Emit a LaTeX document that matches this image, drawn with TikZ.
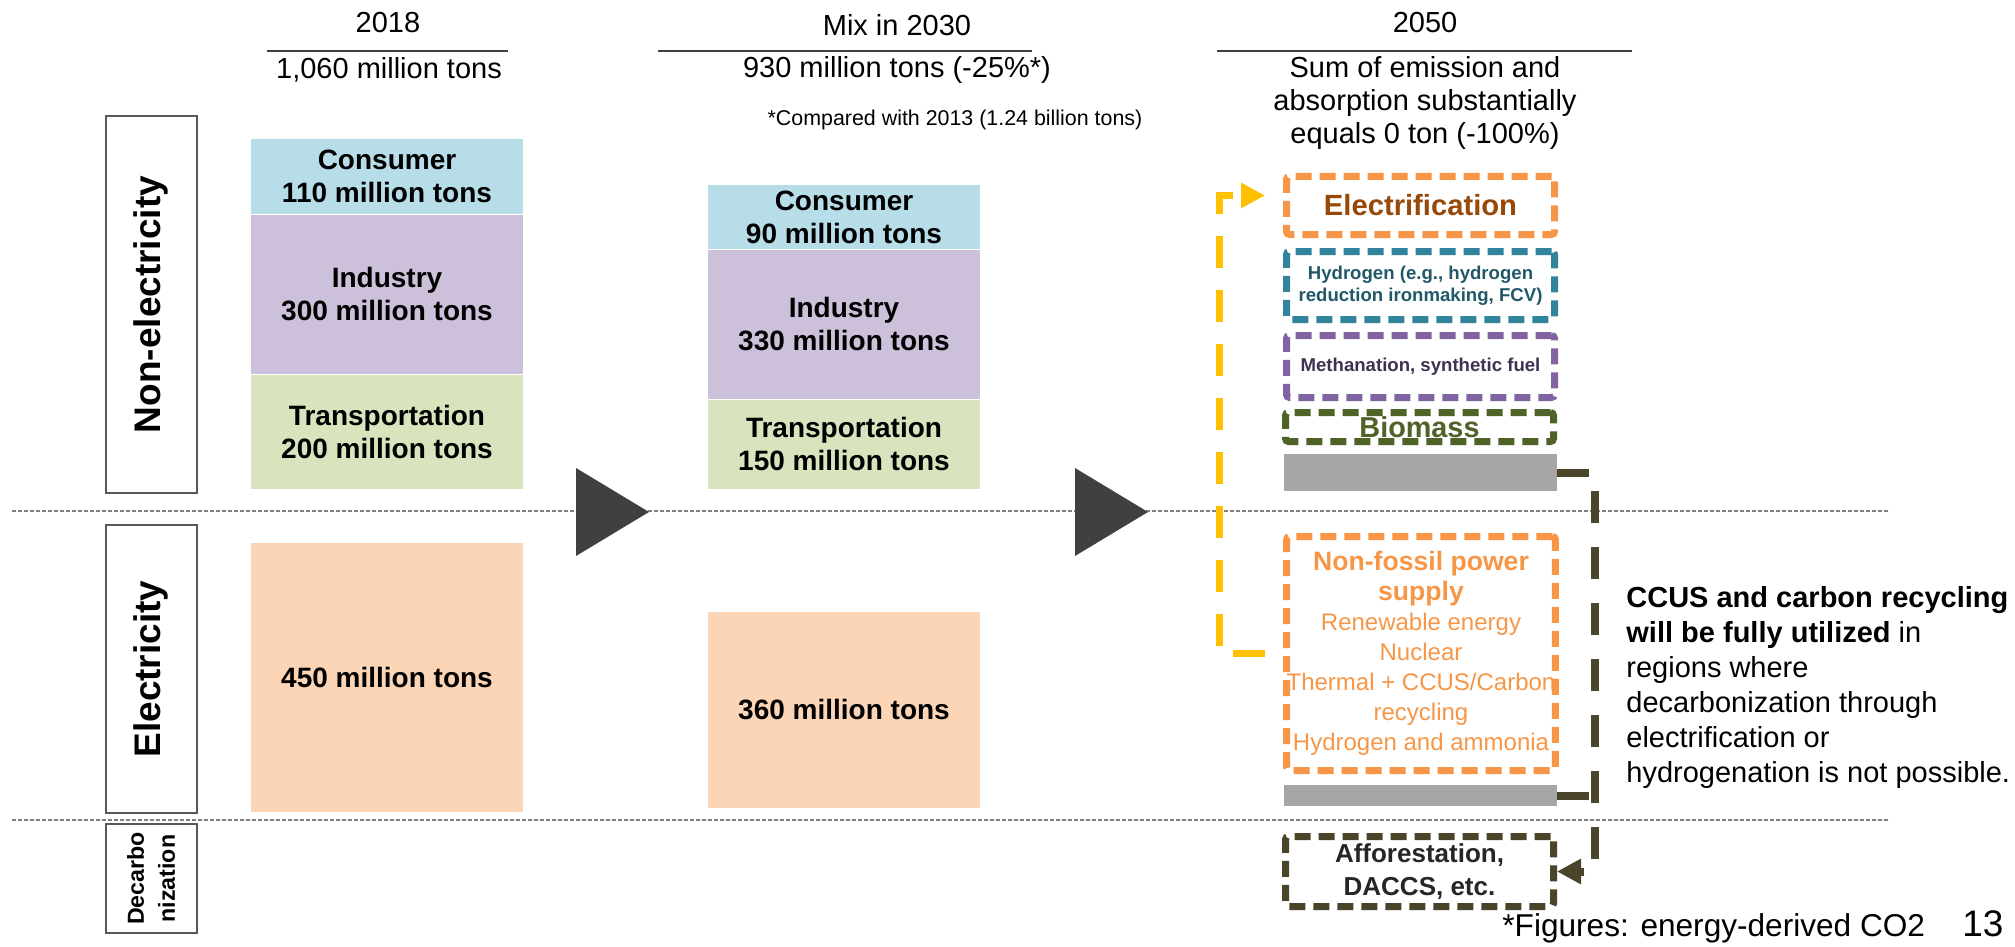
\documentclass[tikz,border=0pt]{standalone}
\usepackage{fontspec}
\setmainfont{Liberation Sans}
\usetikzlibrary{positioning,arrows.meta}
\tikzset{>={Triangle[length=12pt,width=12pt]}}
\definecolor{consumer}{HTML}{B7DDE8}
\definecolor{industry}{HTML}{CCC0DA}
\definecolor{transport}{HTML}{D7E4BD}
\definecolor{power}{HTML}{FBD5B5}
\definecolor{tri}{HTML}{404040}
\definecolor{sepgray}{HTML}{7F7F7F}
\definecolor{sidegray}{HTML}{595959}
\definecolor{bargray}{HTML}{A6A6A6}
\definecolor{elecorange}{HTML}{F79646}
\definecolor{elecbrown}{HTML}{984807}
\definecolor{hydteal}{HTML}{31849B}
\definecolor{hydtext}{HTML}{215968}
\definecolor{methpurple}{HTML}{8064A2}
\definecolor{methtext}{HTML}{3F3151}
\definecolor{biogreen}{HTML}{4F6228}
\definecolor{ccusdark}{HTML}{4A452A}
\definecolor{afftext}{HTML}{262626}
\definecolor{linkyellow}{HTML}{FFC000}

\begin{document}
\begin{tikzpicture}[x=0.5pt, y=-0.5pt,
  stack/.style={inner sep=0pt, minimum width=136pt, align=center, font=\bfseries\fontsize{14}{16.5}\selectfont},
  sidebox/.style={draw=sidegray, line width=1pt, rotate=90, inner sep=0pt, minimum height=45.5pt, align=center, font=\bfseries\fontsize{18.5}{22}\selectfont},
  head/.style={inner sep=0pt, align=center, font=\fontsize{14.5}{16.3}\selectfont},
  headline/.style={draw=tri, line width=1pt},
  sepline/.style={draw=sepgray, line width=0.75pt, dash pattern=on 2pt off 1pt},
  goal/.style={draw=#1, line width=3.5pt, dash pattern=on 8pt off 4pt, rounded corners=1.5pt, inner sep=0pt, minimum width=134pt, align=center},
  capbar/.style={fill=bargray, inner sep=0pt, minimum width=136.5pt},
  ylink/.style={draw=linkyellow, line width=3.5pt, dash pattern=on 16pt off 11pt},
  clink/.style={draw=ccusdark, line width=4pt, dash pattern=on 16pt off 12pt}]
\path[use as bounding box, fill=white] (0,0) rectangle (2015,947);

\draw[sepline] (12,511) -- (1890,511);
\draw[sepline] (12,820) -- (1890,820);
\foreach \tx in {576,1075}
\fill[tri] (\tx,468) -- (\tx+73,512) -- (\tx,556) -- cycle;

\node[head] (y18) at (388,23) {2018};
\draw[headline] (267,51) -- (508,51);
\node[head] (t18) at (389,70) {1,060 million tons};
\node[head] (y30) at (897,25) {Mix in 2030};
\draw[headline] (658,51) -- (1032,51);
\node[head] (t30) at (897,70) {930 million tons (-25\%*)};
\node[head, font=\fontsize{10.7}{12}\selectfont] (note30) at (955,120) {*Compared with 2013 (1.24 billion tons)};
\node[head] (y50) at (1425,23) {2050};
\draw[headline] (1217,51) -- (1632,51);
\node[head] (t50) at (1425,103) {Sum of emission and\\absorption substantially\\equals 0 ton (-100\%)};

\node[sidebox, minimum width=188.5pt] (nonel) at (151,304.5) {Non-electricity};
\node[sidebox, minimum width=144pt] (elec) at (151,669) {Electricity};
\node[sidebox, minimum width=54.5pt, font=\bfseries\fontsize{11.6}{15.5}\selectfont] (decarb) at (151,878.5) {Decarbo\\nization};

\node[stack, fill=consumer, minimum height=37.5pt] (cons18) at (387,176.5) {Consumer\\110 million tons};
\node[stack, fill=industry, minimum height=79.5pt, below=0pt of cons18] (ind18) {Industry\\300 million tons};
\node[stack, fill=transport, minimum height=57pt, below=0pt of ind18] (trans18) {Transportation\\200 million tons};
\node[stack, fill=power, minimum height=134.5pt] (pow18) at (387,677.5) {450 million tons};

\node[stack, fill=consumer, minimum height=32pt] (cons30) at (844,217) {Consumer\\90 million tons};
\node[stack, fill=industry, minimum height=74.5pt, below=0pt of cons30] (ind30) {Industry\\330 million tons};
\node[stack, fill=transport, minimum height=44.5pt, below=0pt of ind30] (trans30) {Transportation\\150 million tons};
\node[stack, fill=power, minimum height=98pt] (pow30) at (844,710) {360 million tons};

\node[goal=elecorange, minimum height=29pt, text=elecbrown, font=\bfseries\fontsize{14.6}{17}\selectfont] (electrif) at (1420.5,205.5) {Electrification};
\node[goal=hydteal, minimum height=34pt, text=hydtext, font=\bfseries\fontsize{9.3}{11}\selectfont] (hydro) at (1420.5,285.5) {Hydrogen (e.g., hydrogen\\reduction ironmaking, FCV)};
\node[goal=methpurple, minimum height=31pt, text=methtext, font=\bfseries\fontsize{9.3}{11}\selectfont] (metha) at (1420.5,366.5) {Methanation, synthetic fuel};
\node[goal=biogreen, minimum height=14.5pt, text=biogreen, font=\bfseries\fontsize{14.4}{16}\selectfont] (biom) at (1419.5,427) {Biomass};
\node[capbar, minimum height=18.5pt] (bar1) at (1420.5,472.5) {};
\node[goal=elecorange, minimum height=117pt, text=elecorange, font=\fontsize{12}{15}\selectfont] (nonfos) at (1421,653.5) {{\bfseries\fontsize{13.3}{16}\selectfont Non-fossil power}\\{\bfseries\fontsize{13.3}{16}\selectfont supply}\\Renewable energy\\Nuclear\\Thermal + CCUS/Carbon\\recycling\\Hydrogen and ammonia};
\node[capbar, minimum height=10.5pt] (bar2) at (1420.5,795.5) {};
\node[goal=ccusdark, minimum height=35pt, text=afftext, font=\bfseries\fontsize{13}{16.5}\selectfont] (affor) at (1419.5,871.5) {Afforestation,\\DACCS, etc.};

\draw[ylink, ->] ([xshift=-9pt]nonfos.west) -| ([xshift=-32pt,yshift=5pt]electrif.west) -- ([xshift=-9pt,yshift=5pt]electrif.west);
\draw[clink, ->] (bar1.east) -- ++(19pt,0) |- (affor.east);
\draw[clink] (bar2.east) -- ++(19pt,0);

\node[anchor=west, align=left, inner sep=0pt, font=\fontsize{14.5}{17.5}\selectfont] (ccus) at (1626,687.5) {\textbf{CCUS and carbon recycling}\\\textbf{will be fully utilized} in\\regions where\\decarbonization through\\electrification or\\hydrogenation is not possible.};
\node[anchor=base west, inner sep=0pt, font=\fontsize{15.8}{18}\selectfont] (figs) at (1502,936) {*Figures: energy-derived CO2};
\node[anchor=base west, inner sep=0pt, font=\fontsize{18.5}{20}\selectfont] (pg) at (1962,936) {13};
\end{tikzpicture}
\end{document}
